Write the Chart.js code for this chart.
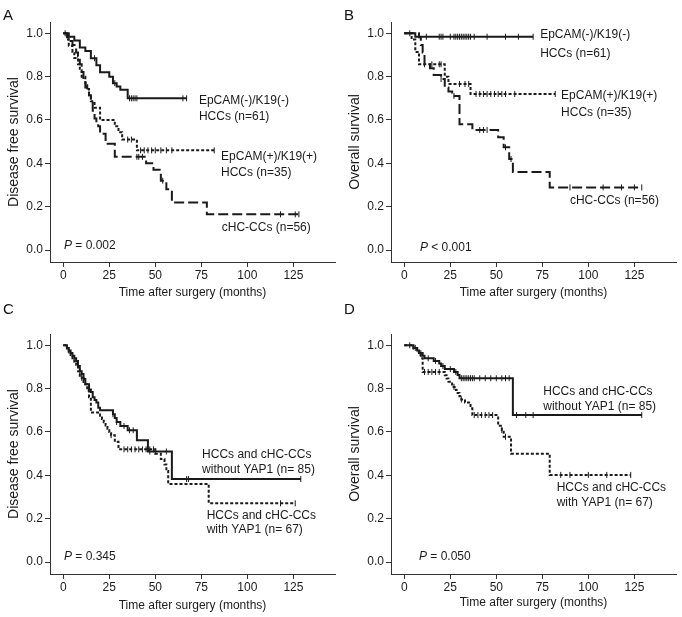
<!DOCTYPE html>
<html>
<head>
<meta charset="utf-8">
<script src="https://cdn.jsdelivr.net/npm/chart.js@4.4.1/dist/chart.umd.min.js"></script>
<style>
  body { margin: 0; background: #fff; }
  #wrap { position: relative; width: 682px; height: 617px; }
  canvas { position: absolute; }
  .lbl { position: absolute; font: 15px "Liberation Sans", Arial, sans-serif; line-height: 15px; color: #111; }
</style>
</head>
<body>
<div id="wrap">
  <canvas id="chartA" width="341" height="308" style="left:0;top:0"></canvas>
  <canvas id="chartB" width="341" height="308" style="left:341px;top:0"></canvas>
  <canvas id="chartC" width="341" height="309" style="left:0;top:308px"></canvas>
  <canvas id="chartD" width="341" height="309" style="left:341px;top:308px"></canvas>
  <div class="lbl" style="left:3px;top:7px">A</div>
  <div class="lbl" style="left:344px;top:7px">B</div>
  <div class="lbl" style="left:3px;top:301px">C</div>
  <div class="lbl" style="left:344px;top:301px">D</div>
</div>
<script>
// axis ticks
const xTicks = [0, 25, 50, 75, 100, 125];
const yTicks = [0, 0.2, 0.4, 0.6, 0.8, 1.0];

// A - disease free survival by EpCAM/K19
const aNegTimes = [0, 3, 6, 9, 12, 15, 18, 20, 25, 27, 29, 31, 35];
const aNegSurv  = [1.0, 0.984, 0.967, 0.934, 0.918, 0.885, 0.852, 0.82, 0.80, 0.77, 0.755, 0.74, 0.70];
const aNegCens  = [1, 17, 28, 36, 37, 38, 39, 40, 65, 67];
const aPosTimes = [0, 2, 3, 5, 6, 8, 9, 10, 12, 13, 14, 15, 17, 20, 28, 30, 32, 40];
const aPosSurv  = [1.0, 0.971, 0.943, 0.914, 0.886, 0.857, 0.829, 0.80, 0.771, 0.743, 0.714, 0.686, 0.657, 0.60, 0.571, 0.543, 0.51, 0.46];
const aPosCens  = [35, 37, 42, 44, 46, 48, 50, 53, 56, 59, 82];
const aCcTimes  = [0, 2, 4, 5, 7, 8, 9, 10, 11, 12, 13, 14, 15, 16, 17, 18, 19, 20, 23, 28, 45, 49, 53, 56, 59, 78];
const aCcSurv   = [1.0, 0.982, 0.964, 0.946, 0.911, 0.893, 0.857, 0.821, 0.786, 0.75, 0.732, 0.714, 0.679, 0.643, 0.607, 0.589, 0.571, 0.536, 0.49, 0.43, 0.40, 0.37, 0.32, 0.28, 0.22, 0.165];
const aCcCens   = [3, 40, 41, 43, 54, 118, 126, 128];

// B - overall survival by EpCAM/K19
const bNegTimes = [0, 6];
const bNegSurv  = [1.0, 0.984];
const bNegCens  = [3, 12, 19, 20, 21, 25, 27, 28, 29, 30, 31, 32, 33, 34, 35, 36, 38, 45, 55, 62, 70];
const bPosTimes = [0, 4, 6, 8, 22, 24, 36];
const bPosSurv  = [1.0, 0.971, 0.914, 0.857, 0.80, 0.766, 0.72];
const bPosCens  = [11, 15, 19, 20, 30, 33, 35, 39, 41, 43, 45, 47, 49, 51, 53, 55, 60, 82];
const bCcTimes  = [0, 8, 9, 10, 11, 14, 16, 20, 22, 24, 26, 30, 37, 51, 54, 57, 59, 79];
const bCcSurv   = [1.0, 0.982, 0.946, 0.911, 0.857, 0.839, 0.807, 0.789, 0.75, 0.732, 0.711, 0.58, 0.554, 0.52, 0.474, 0.42, 0.36, 0.289];
const bCcCens   = [20, 27, 41, 43, 45, 55, 58, 90, 108, 118, 125, 129];

// C - disease free survival by YAP1
const cNoTimes  = [0, 2, 3, 4, 5, 6, 7, 8, 9, 10, 11, 12, 14, 15, 16, 17, 18, 19, 20, 27, 28, 29, 31, 35, 40, 46, 59];
const cNoSurv   = [1.0, 0.988, 0.976, 0.964, 0.952, 0.94, 0.928, 0.904, 0.88, 0.868, 0.844, 0.82, 0.796, 0.784, 0.76, 0.748, 0.736, 0.712, 0.70, 0.682, 0.664, 0.646, 0.628, 0.608, 0.562, 0.51, 0.383];
const cNoCens   = [3, 9, 27, 29, 33, 36, 38, 47, 50, 56, 67, 68, 129];
const cYesTimes = [0, 2, 3, 4, 5, 6, 7, 8, 9, 11, 13, 14, 15, 20, 21, 22, 23, 24, 25, 26, 28, 30, 50, 53, 55, 56, 57, 79];
const cYesSurv  = [1.0, 0.985, 0.97, 0.955, 0.94, 0.925, 0.91, 0.88, 0.85, 0.82, 0.79, 0.76, 0.69, 0.675, 0.66, 0.645, 0.63, 0.615, 0.60, 0.585, 0.555, 0.52, 0.50, 0.475, 0.45, 0.42, 0.36, 0.271];
const cYesCens  = [10, 26, 33, 35, 37, 39, 41, 43, 45, 47, 49, 118, 126];

// D - overall survival by YAP1
const dNoTimes  = [0, 5, 7, 8, 10, 11, 16, 19, 20, 22, 27, 29, 30, 59];
const dNoSurv   = [1.0, 0.988, 0.976, 0.964, 0.952, 0.94, 0.928, 0.916, 0.904, 0.89, 0.877, 0.863, 0.848, 0.678];
const dNoCens   = [3, 6, 9, 13, 17, 21, 25, 28, 31, 32, 33, 34, 35, 36, 37, 38, 41, 44, 47, 50, 53, 55, 57, 61, 66, 70, 129];
const dYesTimes = [0, 5, 7, 8, 9, 10, 22, 23, 24, 26, 28, 29, 30, 31, 33, 36, 37, 51, 53, 54, 58, 79];
const dYesSurv  = [1.0, 0.985, 0.97, 0.955, 0.94, 0.877, 0.862, 0.847, 0.832, 0.808, 0.794, 0.78, 0.765, 0.75, 0.736, 0.709, 0.678, 0.629, 0.609, 0.578, 0.50, 0.402];
const dYesCens  = [11, 13, 15, 17, 19, 27, 31, 38, 40, 42, 44, 46, 48, 53, 55, 85, 90, 100, 110, 123];

const FONT = '"Liberation Sans", Arial, sans-serif';
const INK = '#1a1a1a';
const dashes = { solid: [], dotted: [3, 2], dashed: [10, 4] };

function stepAt(times, surv, t) {
  let s = surv[0];
  for (let i = 0; i < times.length; i++) if (times[i] <= t) s = surv[i];
  return s;
}

function kmDatasets(times, surv, cens, style) {
  const pts = times.map((t, i) => ({ x: t, y: surv[i] }));
  const end = Math.max(...cens);
  if (end > times[times.length - 1]) pts.push({ x: end, y: surv[surv.length - 1] });
  return [{
    data: pts,
    stepped: 'before',
    borderColor: INK,
    borderWidth: 2,
    borderDash: dashes[style],
    pointRadius: 0,
    fill: false
  }, {
    data: cens.map(t => ({ x: t, y: stepAt(times, surv, t) })),
    showLine: false,
    pointStyle: 'line',
    rotation: 90,
    pointRadius: 3,
    borderColor: INK,
    borderWidth: 1
  }];
}

// text notes drawn in data coordinates
const notesPlugin = {
  id: 'kmNotes',
  afterDraw(chart, args, opts) {
    const { ctx, scales: { x, y } } = chart;
    ctx.save();
    ctx.fillStyle = INK;
    ctx.textBaseline = 'middle';
    ctx.font = '12px ' + FONT;
    (opts.notes || []).forEach(n => {
      ctx.fillText(n[0], x.getPixelForValue(n[1]), y.getPixelForValue(n[2]));
    });
    if (opts.p) {
      const px = x.getPixelForValue(opts.p[1]);
      const py = y.getPixelForValue(opts.p[2]);
      ctx.font = 'italic 12px ' + FONT;
      ctx.fillText('P', px, py);
      const w = ctx.measureText('P').width;
      ctx.font = '12px ' + FONT;
      ctx.fillText(' ' + opts.p[0], px + w, py);
    }
    ctx.restore();
  }
};

function makeChart(id, cfg) {
  const datasets = [];
  cfg.curves.forEach(c => datasets.push(...kmDatasets(c[0], c[1], c[2], c[3])));
  return new Chart(document.getElementById(id), {
    type: 'line',
    data: { datasets },
    plugins: [notesPlugin],
    options: {
      responsive: false,
      animation: false,
      layout: { padding: { top: cfg.padTop, right: 6, left: 0, bottom: 0 } },
      plugins: {
        legend: { display: false },
        tooltip: { enabled: false },
        kmNotes: { notes: cfg.notes, p: cfg.p }
      },
      scales: {
        x: {
          type: 'linear',
          min: -7.2,
          max: 147.6,
          afterBuildTicks: s => { s.ticks = xTicks.map(v => ({ value: v })); },
          afterFit: s => { s.height = cfg.xAxisH; },
          ticks: { color: INK, font: { size: 12 }, padding: 1, maxRotation: 0 },
          grid: { drawOnChartArea: false, tickLength: 5, color: '#333' },
          border: { color: '#333', width: 1 },
          title: { display: true, text: 'Time after surgery (months)', color: INK, font: { size: 12 }, padding: { top: 0, bottom: cfg.xTitlePad } }
        },
        y: {
          min: -0.055,
          max: 1.052,
          afterBuildTicks: s => { s.ticks = yTicks.map(v => ({ value: v })); },
          afterFit: s => { s.width = 50; },
          ticks: { color: INK, font: { size: 12 }, padding: 2, callback: v => v.toFixed(1) },
          grid: { drawOnChartArea: false, tickLength: 5, color: '#333' },
          border: { color: '#333', width: 1 },
          title: { display: true, text: cfg.yTitle, color: INK, font: { size: 14 }, padding: { top: 6, bottom: 0 } }
        }
      }
    }
  });
}

Chart.defaults.font.family = FONT;

makeChart('chartA', {
  yTitle: 'Disease free survival', padTop: 22, xAxisH: 46, xTitlePad: 8,
  curves: [
    [aNegTimes, aNegSurv, aNegCens, 'solid'],
    [aPosTimes, aPosSurv, aPosCens, 'dotted'],
    [aCcTimes, aCcSurv, aCcCens, 'dashed']
  ],
  notes: [
    ['EpCAM(-)/K19(-)', 73.7, 0.688], ['HCCs (n=61)', 73.7, 0.613],
    ['EpCAM(+)/K19(+)', 85.7, 0.430], ['HCCs (n=35)', 85.7, 0.355],
    ['cHC-CCs (n=56)', 86.1, 0.103]
  ],
  p: ['= 0.002', 0.4, 0.02]
});

makeChart('chartB', {
  yTitle: 'Overall survival', padTop: 22, xAxisH: 46, xTitlePad: 8,
  curves: [
    [bNegTimes, bNegSurv, bNegCens, 'solid'],
    [bPosTimes, bPosSurv, bPosCens, 'dotted'],
    [bCcTimes, bCcSurv, bCcCens, 'dashed']
  ],
  notes: [
    ['EpCAM(-)/K19(-)', 73.8, 0.992], ['HCCs (n=61)', 73.8, 0.906],
    ['EpCAM(+)/K19(+)', 85.2, 0.712], ['HCCs (n=35)', 85.2, 0.634],
    ['cHC-CCs (n=56)', 90, 0.228]
  ],
  p: ['< 0.001', 8.5, 0.012]
});

makeChart('chartC', {
  yTitle: 'Disease free survival', padTop: 26, xAxisH: 43, xTitlePad: 4,
  curves: [
    [cNoTimes, cNoSurv, cNoCens, 'solid'],
    [cYesTimes, cYesSurv, cYesCens, 'dotted']
  ],
  notes: [
    ['HCCs and cHC-CCs', 75.4, 0.497], ['without YAP1 (n= 85)', 75.4, 0.425],
    ['HCCs and cHC-CCs', 77.9, 0.215], ['with YAP1 (n= 67)', 77.9, 0.149]
  ],
  p: ['= 0.345', 0.4, 0.023]
});

makeChart('chartD', {
  yTitle: 'Overall survival', padTop: 26, xAxisH: 43, xTitlePad: 7,
  curves: [
    [dNoTimes, dNoSurv, dNoCens, 'solid'],
    [dYesTimes, dYesSurv, dYesCens, 'dotted']
  ],
  notes: [
    ['HCCs and cHC-CCs', 75.5, 0.786], ['without YAP1 (n= 85)', 75.5, 0.718],
    ['HCCs and cHC-CCs', 82.8, 0.341], ['with YAP1 (n= 67)', 82.8, 0.274]
  ],
  p: ['= 0.050', 8, 0.023]
});
</script>
</body>
</html>
